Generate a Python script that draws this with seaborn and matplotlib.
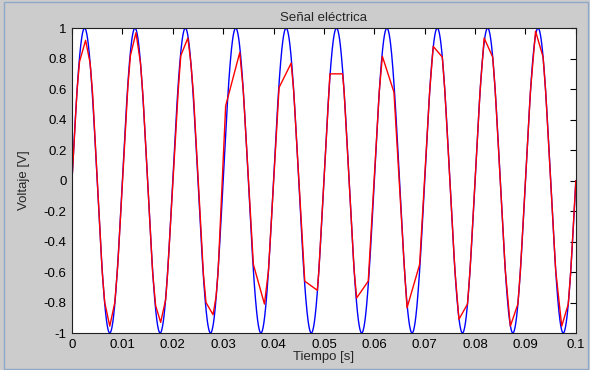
import numpy as np
import pandas as pd
import matplotlib
matplotlib.use("Agg")
import matplotlib.pyplot as plt
import seaborn as sns
from matplotlib.patches import Rectangle

# ---- data ----
FREQ_HZ = 100.0          # ideal signal frequency
AMPLITUDE = 1.0          # ideal signal amplitude
T_END = 0.1

red_t = [0.0000, 0.0010, 0.0015, 0.0027, 0.0036, 0.0041, 0.0060, 0.0065, 0.0075, 0.0085, 0.0091,
         0.0111, 0.0116, 0.0127, 0.0136, 0.0141, 0.0160, 0.0166, 0.0176, 0.0186, 0.0190,
         0.0211, 0.0216, 0.0230, 0.0236, 0.0241, 0.0261, 0.0266, 0.0280, 0.0286, 0.0290,
         0.0305, 0.0333, 0.0340, 0.0360, 0.0382, 0.0390,
         0.0411, 0.0435, 0.0440, 0.0462, 0.0487, 0.0490,
         0.0512, 0.0537, 0.0540, 0.0560, 0.0565, 0.0588,
         0.0610, 0.0616, 0.0639, 0.0660, 0.0665, 0.0690,
         0.0710, 0.0717, 0.0735, 0.0740, 0.0760, 0.0768, 0.0785, 0.0790,
         0.0810, 0.0818, 0.0835, 0.0840, 0.0860, 0.0870, 0.0885, 0.0890,
         0.0910, 0.0920, 0.0935, 0.0940, 0.0960, 0.0972, 0.0985, 0.0990, 0.1000]
red_v = [0.00, 0.59, 0.78, 0.92, 0.77, 0.57, -0.60, -0.80, -0.955, -0.80, -0.55,
         0.62, 0.82, 0.97, 0.77, 0.55, -0.60, -0.82, -0.93, -0.78, -0.60,
         0.60, 0.82, 0.935, 0.77, 0.57, -0.62, -0.80, -0.88, -0.76, -0.60,
         0.49, 0.84, 0.59, -0.55, -0.81, -0.59,
         0.61, 0.77, 0.59, -0.66, -0.72, -0.59,
         0.70, 0.70, 0.59, -0.59, -0.77, -0.66,
         0.59, 0.815, 0.58, -0.59, -0.835, -0.55,
         0.59, 0.88, 0.81, 0.59, -0.59, -0.91, -0.81, -0.59,
         0.59, 0.935, 0.81, 0.59, -0.59, -0.955, -0.81, -0.59,
         0.59, 0.98, 0.81, 0.59, -0.59, -0.955, -0.81, -0.59, 0.00]

x_ticks = [0, 0.01, 0.02, 0.03, 0.04, 0.05, 0.06, 0.07, 0.08, 0.09, 0.1]
x_labels = ["0", "0.01", "0.02", "0.03", "0.04", "0.05", "0.06", "0.07", "0.08", "0.09", "0.1"]
y_ticks = [-1, -0.8, -0.6, -0.4, -0.2, 0, 0.2, 0.4, 0.6, 0.8, 1]
y_labels = ["-1", "-0.8", "-0.6", "-0.4", "-0.2", "0", "0.2", "0.4", "0.6", "0.8", "1"]

title = "Señal eléctrica"
xlabel = "Tiempo [s]"
ylabel = "Voltaje [V]"

# ideal continuous signal
blue_t = np.linspace(0, T_END, 2001)
blue_v = AMPLITUDE * np.sin(2 * np.pi * FREQ_HZ * blue_t)

df_blue = pd.DataFrame({"t": blue_t, "v": blue_v})
df_red = pd.DataFrame({"t": red_t, "v": red_v})

# ---- plot ----
sns.set_theme(style="white")
plt.rcParams["font.family"] = ["Liberation Sans", "DejaVu Sans"]

fig = plt.figure(figsize=(5.9, 3.7), dpi=100, facecolor="#cccccc")
ax = fig.add_axes([0.122, 0.100, 0.854, 0.824])
ax.set_facecolor("white")

sns.lineplot(data=df_blue, x="t", y="v", ax=ax, color="#0000ff", linewidth=1.0,
             estimator=None, sort=False)
sns.lineplot(data=df_red, x="t", y="v", ax=ax, color="#ff0000", linewidth=1.0,
             estimator=None, sort=False)

ax.set_xlim(0, T_END)
ax.set_ylim(-1, 1)
ax.set_xticks(x_ticks)
ax.set_xticklabels(x_labels)
ax.set_yticks(y_ticks)
ax.set_yticklabels(y_labels)
ax.tick_params(direction="in", top=True, right=True, length=4, width=0.8,
               labelsize=9.5, colors="#000000", pad=4)
for s in ax.spines.values():
    s.set_visible(True)
    s.set_color("#202020")
    s.set_linewidth(0.8)

ax.set_title(title, fontsize=9.5, pad=5)
ax.set_xlabel(xlabel, fontsize=9.5, labelpad=0)
ax.set_ylabel(ylabel, fontsize=9.5, labelpad=10)

fig.patches.append(Rectangle((0.006, 0.004), 0.99, 0.99, transform=fig.transFigure,
                             fill=False, edgecolor="#8fa8c8", linewidth=1.0))

fig.savefig("out.png", dpi=100, facecolor=fig.get_facecolor())
